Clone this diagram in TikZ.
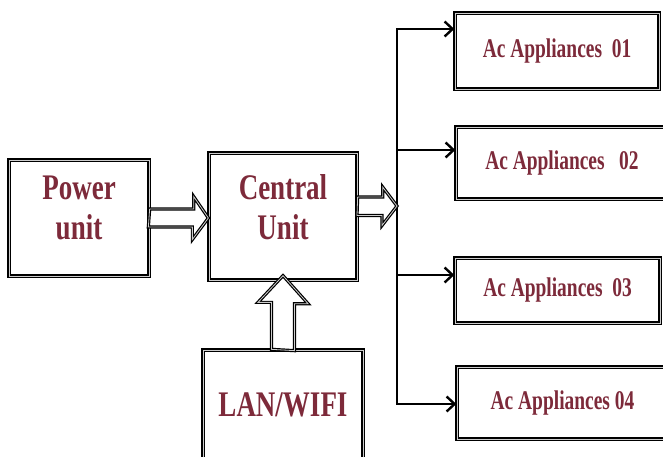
\documentclass[tikz,border=0pt]{standalone}
\usepackage{fontspec}
\setmainfont{Liberation Serif}
\newfontfamily\headfont[FakeStretch=0.75]{Liberation Serif}
\newfontfamily\appfont[FakeStretch=0.72]{Liberation Serif}
\usetikzlibrary{calc,arrows.meta}
\definecolor{labelred}{RGB}{125,42,58}
\tikzset{
  unitbox/.style={draw, line width=1.3pt, double=gray!40, double distance=0.9pt, fill=white},
  headtxt/.style={text=labelred, align=center, font=\headfont\bfseries\fontsize{36}{40}\selectfont},
  apptxt/.style={text=labelred, font=\appfont\bfseries\fontsize{27}{30}\selectfont},
  hollow/.style={draw, line width=1.2pt, double=gray!40, double distance=0.8pt, fill=white, line join=miter},
  wire/.style={line width=2.2pt},
  feed/.style={wire, -{Straight Barb[length=8pt,width=15pt,line width=2.4pt]}}
}
\begin{document}
\begin{tikzpicture}[x=1pt,y=-1pt]
	\useasboundingbox (0,0) rectangle (663,457);
	% blocks
	\node[unitbox, minimum width=140, minimum height=116, label={[headtxt,yshift=10pt]center:Power\\unit}] (power) at (79,218) {};
	\node[unitbox, minimum width=148, minimum height=127, label={[headtxt,yshift=9pt]center:Central\\Unit}] (central) at (283,216.5) {};
	\node[unitbox, minimum width=160, minimum height=110, headtxt] (lan) at (283,405) {LAN/WIFI};
	\node[unitbox, minimum width=204, minimum height=76, apptxt] (app1) at (557,51) {Ac Appliances\ \ 01};
	\node[unitbox, minimum width=212, minimum height=72, apptxt] (app2) at (562,163) {Ac Appliances\ \ \ 02};
	\node[unitbox, minimum width=205, minimum height=65, apptxt] (app3) at (557.5,290.5) {Ac Appliances\ \ 03};
	\node[unitbox, minimum width=211, minimum height=72, apptxt] (app4) at (562.5,403) {Ac Appliances 04};
	% distribution line
	\coordinate (t1) at (397,29);
	\coordinate (t2) at (397,150);
	\coordinate (hub) at (397,206);
	\coordinate (t3) at (397,275);
	\coordinate (t4) at (397,404);
	\draw[wire, {Straight Barb[length=8pt,width=15pt,line width=2.4pt]}-{Straight Barb[length=8pt,width=15pt,line width=2.4pt]}] (t1 -| app1.west) -- (t1) -- (t4) -- (t4 -| app4.west);
	\draw[feed] (t2) -- (t2 -| app2.west);
	\draw[feed] (t3) -- (t3 -| app3.west);
	% hollow arrows
	\draw[hollow] ($(power.east)+(0,-9)$) -- ++(44,0) -- ++(0,-12.5) -- (power.east -| central.west) -- ++(-16,21.5) -- ++(0,-12.5) -- ++(-44,0) -- cycle;
	\draw[hollow] ($(central.east)+(0,-19.5)$) -- ++(25,0) -- ++(0,-10) -- (hub) -- ++(-15,19.5) -- ++(0,-10) -- ++(-25,0) -- cycle;
	\draw[hollow] ($(lan.north)+(-11.5,0)$) -- ++(0,-47) -- ++(-13.5,0) -- ($(central.south)+(0,-5)$) -- ++(25,28) -- ++(-13.5,0) -- ++(0,47) -- cycle;
\end{tikzpicture}
\end{document}
